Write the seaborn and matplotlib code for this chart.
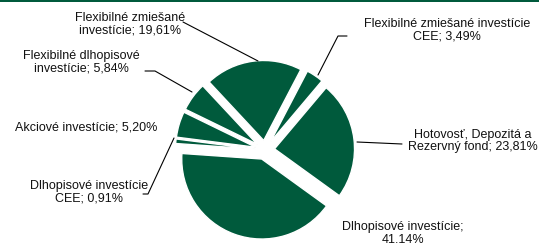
import matplotlib
matplotlib.use("Agg")
import matplotlib.pyplot as plt
import seaborn as sns

# slices, clockwise starting from the upper-left edge
categories = [
    "Flexibilné zmiešané\ninvestície",
    "Flexibilné zmiešané investície\nCEE",
    "Hotovosť, Depozitá a\nRezervný fond",
    "Dlhopisové investície;\n",
    "Dlhopisové investície\nCEE",
    "Akciové investície",
    "Flexibilné dlhopisové\ninvestície",
]
shares = [19.61, 3.49, 23.81, 41.14, 0.91, 5.20, 5.84]

GREEN = "#005A3C"
W, H = 539, 243
CX, CY, R = 265, 150, 80  # pie centre and radius in pixels


def px(x, y):
    """pixel position (from top-left) -> data coords of the pie axes"""
    return (x - CX) / R, (CY - y) / R


sns.set_theme(style="white")
plt.rcParams["font.family"] = ["Liberation Sans", "DejaVu Sans"]

fig = plt.figure(figsize=(W / 100, H / 100), dpi=100)
ax = fig.add_axes([0, 0, 1, 1])

ax.pie(
    shares,
    colors=[GREEN] * len(shares),
    startangle=133,
    counterclock=False,
    explode=[0.12] * len(shares),
    radius=1,
    wedgeprops=dict(edgecolor="white", linewidth=1),
)
ax.set_xlim(-CX / R, (W - CX) / R)
ax.set_ylim(-(H - CY) / R, CY / R)
ax.set_aspect("equal")
ax.axis("off")


def fmt(v):
    return f"{v:.2f}".replace(".", ",") + "%"


labels = []
for name, v in zip(categories, shares):
    if name.endswith("\n"):
        labels.append(name + fmt(v))
    else:
        labels.append(f"{name}; {fmt(v)}")

# label anchor (centre of text block, pixels) and leader line points
label_pos = [(130, 24), (447, 30), (473, 141), (403, 233), (89, 192), (86, 127), (81, 62)]
leaders = [
    [(183, 22), (258, 61)],
    [(347, 36), (338, 36), (318, 75)],
    [(357, 142), (402, 144)],
    None,
    [(143, 194), (148, 194), (174, 138)],
    None,
    [(145, 71), (155, 71), (192, 92)],
]

for text, (lx, ly), pts in zip(labels, label_pos, leaders):
    ax.text(*px(lx, ly), text, ha="center", va="center", fontsize=9,
            color="#111111", linespacing=1.1)
    if pts:
        xs, ys = zip(*[px(x, y) for x, y in pts])
        ax.plot(xs, ys, color="black", linewidth=0.8)

# thin green rule at the top edge
fig.add_artist(plt.Rectangle((0, 1 - 2 / H), 1, 2 / H, transform=fig.transFigure,
                             color=GREEN, linewidth=0))

fig.savefig("out.png", dpi=100)
